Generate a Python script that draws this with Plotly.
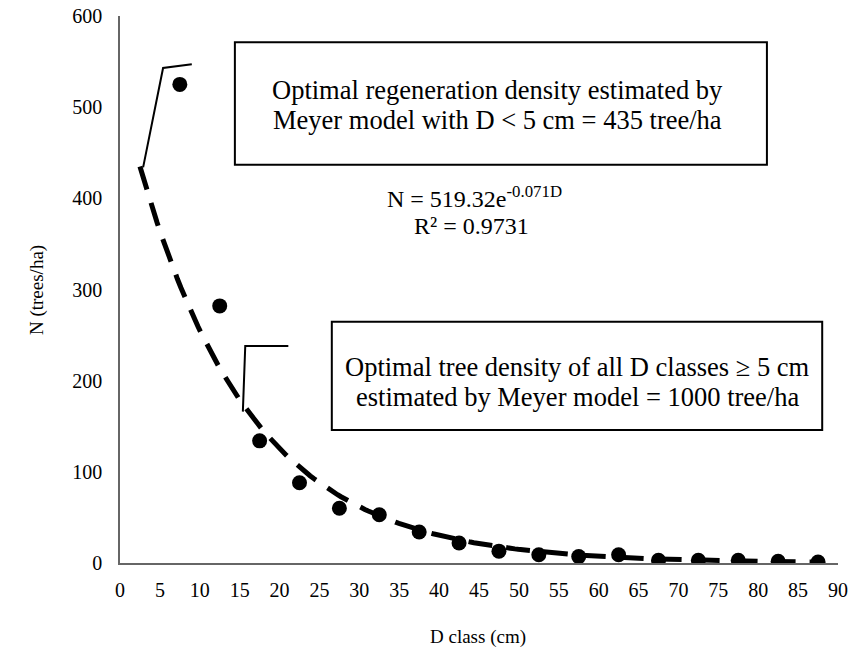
import numpy as np
import plotly.graph_objects as go

# Data
d_class = [7.5, 12.5, 17.5, 22.5, 27.5, 32.5, 37.5, 42.5, 47.5, 52.5,
           57.5, 62.5, 67.5, 72.5, 77.5, 82.5, 87.5]
n_trees = [525, 282, 134, 88, 60, 53, 34, 22, 13, 9,
           7, 9, 3, 3, 3, 2, 1]

# Meyer model (exponential trendline) as stated on the chart
coef_a = 519.32
coef_b = 0.071
trend_start = 2.5
trend_end = 87.5

x_ticks = list(range(0, 91, 5))
y_ticks = list(range(0, 601, 100))

FONT = "Liberation Serif"

trend_x = np.linspace(trend_start, trend_end, 200)
trend_y = coef_a * np.exp(-coef_b * trend_x)

fig = go.Figure()
fig.add_trace(go.Scatter(
    x=trend_x, y=trend_y, mode="lines",
    line=dict(color="black", width=5, dash="24px,14px"),
    showlegend=False, hoverinfo="skip"))
fig.add_trace(go.Scatter(
    x=d_class, y=n_trees, mode="markers",
    marker=dict(color="black", size=15),
    showlegend=False))

# callout leader lines (data coordinates)
callout1_x = [2.9, 5.4, 9.0]
callout1_y = [434, 543, 547]
callout2_x = [15.4, 15.7, 21.1]
callout2_y = [166, 238, 238]

def path(xs, ys):
    p = f"M {xs[0]} {ys[0]}"
    for a, b in zip(xs[1:], ys[1:]):
        p += f" L {a} {b}"
    return p

shapes = [
    dict(type="path", xref="x", yref="y", path=path(callout1_x, callout1_y),
         line=dict(color="black", width=2)),
    dict(type="path", xref="x", yref="y", path=path(callout2_x, callout2_y),
         line=dict(color="black", width=2)),
    dict(type="rect", xref="paper", yref="paper", x0=0.160, x1=0.901, y0=0.728, y1=0.952,
         line=dict(color="black", width=2), fillcolor="white", layer="above"),
    dict(type="rect", xref="paper", yref="paper", x0=0.295, x1=0.978, y0=0.243, y1=0.441,
         line=dict(color="black", width=2), fillcolor="white", layer="above"),
]

def txt(x, y, s, size, angle=0):
    return dict(xref="paper", yref="paper", x=x, y=y, showarrow=False, text=s,
                textangle=angle, xanchor="center", yanchor="middle",
                font=dict(family=FONT, size=size, color="black"))

annotations = [
    txt(0.526, 0.8647, "Optimal regeneration density estimated by", 26.5),
    txt(0.526, 0.8099, "Meyer model with D &lt; 5 cm = 435 tree/ha", 26.5),
    txt(0.6365, 0.3583, "Optimal tree density of all D classes ≥ 5 cm", 26.5),
    txt(0.6365, 0.3035, "estimated by Meyer model = 1000 tree/ha", 26.5),
    txt(0.494, 0.6691, "N = 519.32e<sup>-0.071D</sup>", 24),
    txt(0.490, 0.6161, "R² = 0.9731", 24),
    txt(0.4986, -0.135, "D class (cm)", 19),
    txt(-0.1156, 0.499, "N (trees/ha)", 19, angle=-90),
]

fig.update_layout(
    width=854, height=659,
    margin=dict(l=120, r=16, t=16, b=96),
    paper_bgcolor="white", plot_bgcolor="white",
    font=dict(family=FONT, size=20, color="black"),
    shapes=shapes, annotations=annotations,
    xaxis=dict(range=[0, 90], tickvals=x_ticks, showgrid=False, zeroline=False,
               showline=True, linecolor="#666", linewidth=1.5, ticks="",
               automargin=False, ticklabelstandoff=8, ticklabeloverflow="allow",
               tickfont=dict(family=FONT, size=20, color="black")),
    yaxis=dict(range=[0, 600], tickvals=y_ticks, showgrid=False, zeroline=False,
               showline=True, linecolor="#666", linewidth=1.5, ticks="",
               automargin=False, ticklabelstandoff=12, ticklabeloverflow="allow",
               tickfont=dict(family=FONT, size=20, color="black")),
)

fig.write_html("out.html", config={"displayModeBar": False},
               post_script="document.body.style.margin='0';document.body.style.overflow='hidden';")
